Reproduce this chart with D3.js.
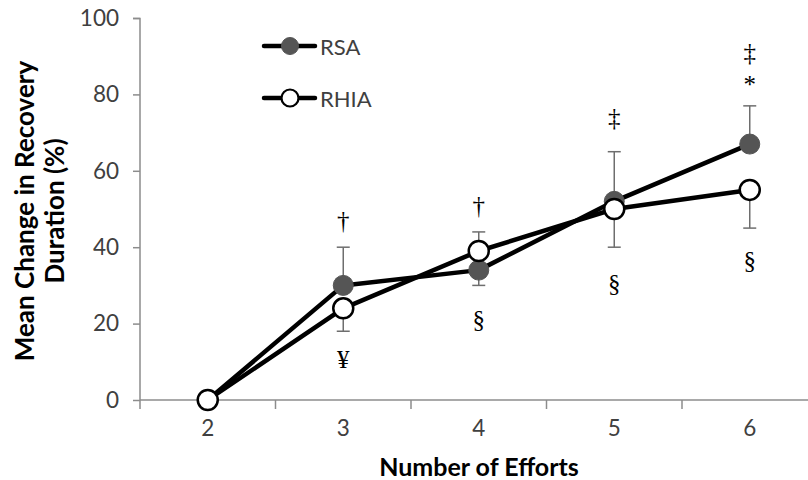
<!DOCTYPE html>
<html>
<head>
<meta charset="utf-8">
<script src="https://cdn.jsdelivr.net/npm/d3@7/dist/d3.min.js"></script>
<style>
  html, body { margin: 0; padding: 0; background: #fff; }
  svg { display: block; }
</style>
</head>
<body>
<svg id="chart" width="808" height="480"></svg>
<script>
// ---- data ----
const categories = ["2", "3", "4", "5", "6"];
const rsaValues  = [0, 30, 34, 52, 67];
const rhiaValues = [0, 24, 39, 50, 55];
const rsaErr     = [0, 10, 4, 13, 10];
const rhiaErr    = [0, 6, 5, 10, 10];
const yTicks     = [0, 20, 40, 60, 80, 100];
const seriesNames = ["RSA", "RHIA"];
// significance symbols: category, symbol, level (in % units)
const annCats    = ["3", "3", "4", "4", "5", "5", "6", "6", "6"];
const annSymbols = ["†", "¥", "†", "§", "‡", "§", "‡", "*", "§"];
const annLevels  = [47, 10.5, 51, 21, 74, 30.6, 91, 82.5, 36.6];

// ---- layout ----
const svg = d3.select("#chart");
const x = d3.scaleBand().domain(categories).range([140, 817.5]).padding(0);
const y = d3.scaleLinear().domain([0, 100]).range([400, 18]);
const cx = c => x(c) + x.bandwidth() / 2;
const axisColor = "#8c8c8c";
const tickText = "#404040";
const sans = "Lato, 'Open Sans', sans-serif";
const serif = "'Liberation Serif', 'DejaVu Serif', serif";

// y axis
const yAxis = svg.append("g").attr("transform", "translate(140,0)")
  .call(d3.axisLeft(y).tickValues(yTicks).tickSize(7).tickPadding(14).tickFormat(d3.format("d")));
yAxis.select(".domain").attr("stroke", axisColor).attr("stroke-width", 1.5)
  .attr("d", "M-7,18.5H0V409");
yAxis.selectAll(".tick line").attr("stroke", axisColor).attr("stroke-width", 1.5);
yAxis.selectAll(".tick text").attr("fill", tickText).style("font-family", sans).style("font-size", "22.5px");

// x axis
const xAxisG = svg.append("g").attr("transform", "translate(0,400)");
xAxisG.append("line").attr("x1", 140).attr("x2", 808).attr("y1", 0).attr("y2", 0)
  .attr("stroke", axisColor).attr("stroke-width", 1.5);
const bounds = categories.map(c => x(c) + x.bandwidth());
xAxisG.selectAll("line.tk").data(bounds).join("line").attr("class", "tk")
  .attr("x1", d => d).attr("x2", d => d).attr("y1", 0).attr("y2", 9)
  .attr("stroke", axisColor).attr("stroke-width", 1.5);
xAxisG.selectAll("text").data(categories).join("text")
  .attr("x", d => cx(d)).attr("y", 36).attr("text-anchor", "middle")
  .attr("fill", tickText).style("font-family", sans).style("font-size", "22.5px").text(d => d);

// axis titles
svg.append("text").attr("x", 479).attr("y", 476).attr("text-anchor", "middle")
  .style("font-family", sans).style("font-weight", "bold").style("font-size", "25px").attr("fill", "#000")
  .text("Number of Efforts");
const yt = svg.append("text").attr("transform", "translate(0,211) rotate(-90)")
  .attr("text-anchor", "middle").style("font-family", sans).style("font-weight", "bold")
  .style("font-size", "26px").attr("fill", "#000");
yt.append("tspan").attr("x", 0).attr("y", 34).text("Mean Change in Recovery");
yt.append("tspan").attr("x", 0).attr("y", 64).text("Duration (%)");

// error bars
const errG = svg.append("g").attr("stroke", "#6e6e6e").attr("stroke-width", 1.5);
categories.forEach((c, i) => {
  const pairs = [[rsaValues[i], rsaErr[i], rhiaValues[i]], [rhiaValues[i], rhiaErr[i], rsaValues[i]]];
  pairs.forEach(([v, e, other]) => {
    if (!e) return;
    const end = v >= other ? v + e : v - e;
    errG.append("line").attr("x1", cx(c)).attr("x2", cx(c)).attr("y1", y(v)).attr("y2", y(end));
    errG.append("line").attr("x1", cx(c) - 6.5).attr("x2", cx(c) + 6.5).attr("y1", y(end)).attr("y2", y(end));
  });
});

// series
const line = d3.line().x((d, i) => cx(categories[i])).y(d => y(d));
const seriesData = [rsaValues, rhiaValues];
const fills = ["#555555", "#ffffff"];
seriesData.forEach((vals, s) => {
  svg.append("path").datum(vals).attr("d", line).attr("fill", "none")
    .attr("stroke", "#000").attr("stroke-width", 4.5).attr("stroke-linejoin", "round");
  svg.append("g").selectAll("circle").data(vals).join("circle")
    .attr("cx", (d, i) => cx(categories[i])).attr("cy", d => y(d)).attr("r", 10)
    .attr("fill", fills[s]).attr("stroke", s === 0 ? "#555555" : "#000").attr("stroke-width", s === 0 ? 1 : 2.5);
});

// annotations
svg.append("g").selectAll("text").data(annSymbols).join("text")
  .attr("x", (d, i) => cx(annCats[i])).attr("y", (d, i) => y(annLevels[i]))
  .attr("text-anchor", "middle").attr("dominant-baseline", "central")
  .style("font-family", serif).style("font-size", "25px").attr("fill", "#000")
  .text(d => d);

// legend
const legY = [46, 98];
seriesNames.forEach((n, s) => {
  const g = svg.append("g");
  g.append("line").attr("x1", 264).attr("x2", 315).attr("y1", legY[s]).attr("y2", legY[s])
    .attr("stroke", "#000").attr("stroke-width", 4.5).attr("stroke-linecap", "round");
  g.append("circle").attr("cx", 290).attr("cy", legY[s]).attr("r", 8.5)
    .attr("fill", fills[s]).attr("stroke", s === 0 ? "#555555" : "#000").attr("stroke-width", s === 0 ? 1 : 2.2);
  g.append("text").attr("x", 320).attr("y", legY[s]).attr("dominant-baseline", "central")
    .style("font-family", sans).style("font-size", "22px").attr("fill", tickText).text(n);
});
</script>
</body>
</html>
